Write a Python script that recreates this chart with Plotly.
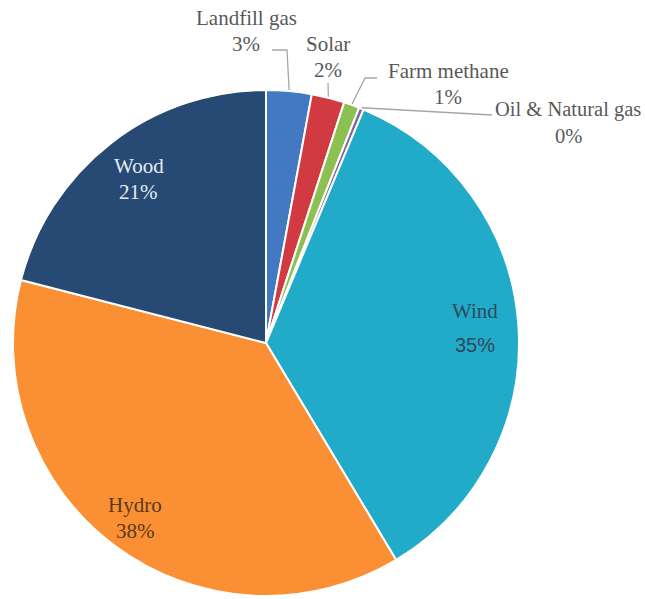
import math
import plotly.graph_objects as go

# ---- data ----
labels = ["Landfill gas", "Solar", "Farm methane", "Oil & Natural gas", "Wind", "Hydro", "Wood"]
values = [2.9, 2.1, 1.0, 0.3, 35.1, 37.6, 21.0]
pct_text = ["3%", "2%", "1%", "0%", "35%", "38%", "21%"]

# ---- styles ----
colors = ["#4379c0", "#d03a40", "#8cc152", "#8064a2", "#21abc9", "#fb8f33", "#264a73"]
W, H = 645, 599
CX, CY, R = 266, 343, 253  # pie center / radius in pixels

def px(x):
    return x / W

def py(y):
    return 1 - y / H

fig = go.Figure(go.Pie(
    labels=labels, values=values, sort=False, direction="clockwise", rotation=0,
    marker=dict(colors=colors, line=dict(color="white", width=2)),
    textinfo="none", hoverinfo="label+percent", showlegend=False,
    domain=dict(x=[px(CX - R), px(CX + R)], y=[py(CY + R), py(CY - R)]),
))

total = sum(values)
mids = []
acc = 0
for v in values:
    mids.append((acc + v / 2) / total * 2 * math.pi)
    acc += v

def polar(angle, rad):
    return CX + rad * math.sin(angle), CY - rad * math.cos(angle)

serif = "Liberation Serif, Times New Roman, serif"
sans = "Liberation Sans, Arial, sans-serif"
FS = 21

def two_line(x, y, top, bottom, col, gap, bottom_family=serif, bottom_size=FS, top_size=FS):
    fig.add_annotation(x=px(x), y=py(y - gap / 2), xref="paper", yref="paper",
                       text=top, showarrow=False,
                       font=dict(family=serif, size=top_size, color=col),
                       xanchor="center", yanchor="middle")
    fig.add_annotation(x=px(x), y=py(y + gap / 2), xref="paper", yref="paper",
                       text=bottom, showarrow=False,
                       font=dict(family=bottom_family, size=bottom_size, color=col),
                       xanchor="center", yanchor="middle")

# inside labels: (index, radius fraction, text color, line gap, pct font, pct size)
inside = [(6, 0.82, "#e6ebf2", 26, serif, FS),
          (5, 0.865, "#5a3b1e", 26, serif, FS),
          (4, 0.83, "#2c4a5a", 34, sans, 20)]
for i, rf, col, gap, fam, sz in inside:
    x, y = polar(mids[i], R * rf)
    two_line(x, y, labels[i], pct_text[i], col, gap, fam, sz)

# outside labels: index -> (label center px, leader path points after the edge point, size)
outside = {
    0: ((246, 31), [(287, 50), (272, 50)], FS),
    1: ((328, 57), [(328, 83)], FS),
    2: ((448, 84), [(365, 78), (377, 78)], FS),
    3: ((568, 123), [(492, 115)], 20.5),
}
for i, ((lx, ly), pts, sz) in outside.items():
    ex, ey = polar(mids[i], R + 1)
    path_pts = [(ex, ey)] + pts
    d = "M " + " L ".join(f"{px(a)} {py(b)}" for a, b in path_pts)
    fig.add_shape(type="path", path=d, xref="paper", yref="paper",
                  line=dict(color="#a6a6a6", width=1.3))
    two_line(lx, ly, labels[i], pct_text[i], "#595959", 26, serif, sz, sz)

fig.update_layout(width=W, height=H, margin=dict(l=0, r=0, t=0, b=0),
                  paper_bgcolor="white", plot_bgcolor="white")
fig.write_html("out.html")
